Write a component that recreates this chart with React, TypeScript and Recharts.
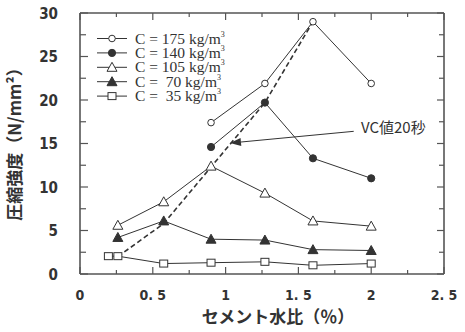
import React from 'react';
import {
  ComposedChart, Line, XAxis, YAxis, ReferenceLine, ReferenceDot,
} from 'recharts';

// ---- data ----
const x175 = [0.9, 1.27, 1.6, 2.0];
const y175 = [17.4, 21.9, 29.0, 21.9];
const x140 = [0.9, 1.27, 1.6, 2.0];
const y140 = [14.6, 19.7, 13.3, 11.0];
const x105 = [0.26, 0.575, 0.9, 1.27, 1.6, 2.0];
const y105 = [5.6, 8.3, 12.4, 9.3, 6.1, 5.5];
const x70 = [0.26, 0.575, 0.9, 1.27, 1.6, 2.0];
const y70 = [4.2, 6.1, 4.0, 3.9, 2.8, 2.7];
const x35 = [0.195, 0.26, 0.575, 0.9, 1.27, 1.6, 2.0];
const y35 = [2.05, 2.05, 1.2, 1.3, 1.4, 1.0, 1.2];
const xVC = [0.26, 0.575, 0.9, 1.27, 1.6];
const yVC = [2.0, 5.8, 12.3, 19.7, 29.0];

const seriesNames = ['C = 175 kg/m', 'C = 140 kg/m', 'C = 105 kg/m', 'C =  70 kg/m', 'C =  35 kg/m'];
const xTicks = [0, 0.25, 0.5, 0.75, 1, 1.25, 1.5, 1.75, 2, 2.25, 2.5];
const xTickLabels: Record<string, string> = { '0': '0', '0.5': '0. 5', '1': '1', '1.5': '1. 5', '2': '2', '2.5': '2. 5' };
const yTicks = [0, 2.5, 5, 7.5, 10, 12.5, 15, 17.5, 20, 22.5, 25, 27.5, 30];
const yTickLabels: Record<string, string> = { '0': '0', '5': '5', '10': '10', '15': '15', '20': '20', '25': '25', '30': '30' };
const annotationText = 'VC値20秒';
const xTitle = 'セメント水比（％）';
const yTitle = '圧縮強度（N/mm²）';

const zip = (xs: number[], ys: number[]) => xs.map((x, i) => ({ x, y: ys[i] }));
const d175 = zip(x175, y175);
const d140 = zip(x140, y140);
const d105 = zip(x105, y105);
const d70 = zip(x70, y70);
const d35 = zip(x35, y35);
const dVC = zip(xVC, yVC);

const INK = '#333';
const FRAME = '#555';
const tickFont = '"Liberation Sans Narrow", "DejaVu Sans Condensed", "Roboto Condensed", sans-serif';
const cjkFont = '"Noto Sans CJK JP", "Noto Sans CJK SC", sans-serif';

type MK = 'oc' | 'fc' | 'ot' | 'ft' | 'os';
const markerKinds: MK[] = ['oc', 'fc', 'ot', 'ft', 'os'];

const Marker = ({ kind, cx, cy }: { kind: MK; cx: number; cy: number }) => {
  switch (kind) {
    case 'oc':
      return <circle cx={cx} cy={cy} r={3.3} fill="#fff" stroke={INK} strokeWidth={1} />;
    case 'fc':
      return <circle cx={cx} cy={cy} r={3.6} fill={INK} stroke={INK} strokeWidth={1} />;
    case 'ot':
      return <polygon points={`${cx},${cy - 5} ${cx - 5},${cy + 4} ${cx + 5},${cy + 4}`} fill="#fff" stroke={INK} strokeWidth={1} />;
    case 'ft':
      return <polygon points={`${cx},${cy - 5} ${cx - 5},${cy + 4} ${cx + 5},${cy + 4}`} fill={INK} stroke={INK} strokeWidth={1} />;
    default:
      return <rect x={cx - 4} y={cy - 3.5} width={8} height={7} fill="#fff" stroke={INK} strokeWidth={1} />;
  }
};

const dotFor = (kind: MK) => (p: any) => (
  <g key={p.key ?? `${kind}-${p.index}`}>
    {p.cx != null && p.cy != null ? <Marker kind={kind} cx={p.cx} cy={p.cy} /> : null}
  </g>
);

const isMajor = (v: number, step: number) => Math.abs(v / step - Math.round(v / step)) < 1e-6;

const BottomTick = (p: any) => {
  const v = p.payload.value;
  const major = isMajor(v, 0.5);
  const lbl = xTickLabels[String(v)];
  return (
    <g>
      <line x1={p.x} y1={p.y} x2={p.x} y2={p.y - (major ? 7 : 4)} stroke={FRAME} strokeWidth={1.2} />
      {major && lbl !== undefined ? (
        <text x={p.x} y={p.y + 26} textAnchor="middle" fontFamily={tickFont} fontWeight="bold" fontSize={14} fill={INK} style={{ whiteSpace: 'pre' }}>{lbl}</text>
      ) : null}
    </g>
  );
};
const TopTick = (p: any) => {
  const v = p.payload.value;
  const major = isMajor(v, 0.5);
  return <line x1={p.x} y1={p.y} x2={p.x} y2={p.y + (major ? 7 : 4)} stroke={FRAME} strokeWidth={1.2} />;
};
const LeftTick = (p: any) => {
  const v = p.payload.value;
  const major = isMajor(v, 5);
  const lbl = yTickLabels[String(v)];
  return (
    <g>
      <line x1={p.x} y1={p.y} x2={p.x + (major ? 8 : 6)} y2={p.y} stroke={FRAME} strokeWidth={1.2} />
      {major && lbl !== undefined ? (
        <text x={p.x - 22} y={p.y + 5.5} textAnchor="end" fontFamily={tickFont} fontWeight="bold" fontSize={15} fill={INK}>{lbl}</text>
      ) : null}
    </g>
  );
};
const RightTick = (p: any) => {
  const v = p.payload.value;
  const major = isMajor(v, 5);
  return <line x1={p.x} y1={p.y} x2={p.x - (major ? 7 : 5)} y2={p.y} stroke={FRAME} strokeWidth={1.2} />;
};

const LegendBox = () => (
  <g transform="translate(95,31)">
    {seriesNames.map((name, i) => {
      const cy = 7.5 + i * 14.4;
      return (
        <g key={name}>
          <line x1={2} y1={cy} x2={32} y2={cy} stroke={INK} strokeWidth={1} />
          <Marker kind={markerKinds[i]} cx={17} cy={cy} />
          <text x={40} y={cy + 5} fontFamily='"Liberation Serif", "DejaVu Serif", serif' fontSize={15.5} fill={INK} style={{ whiteSpace: 'pre' }}>
            {name}
            <tspan fontSize={8} dy={-7}>3</tspan>
          </text>
        </g>
      );
    })}
  </g>
);

const ArrowShape = (p: any) => {
  const { x1, y1, x2, y2 } = p;
  if ([x1, y1, x2, y2].some((v) => v == null || isNaN(v))) return <g />;
  const ang = Math.atan2(y2 - y1, x2 - x1);
  const L = 11, W = 4;
  const bx = x2 - L * Math.cos(ang), by = y2 - L * Math.sin(ang);
  const px = -Math.sin(ang) * W, py = Math.cos(ang) * W;
  return (
    <g>
      <line x1={x1} y1={y1} x2={bx} y2={by} stroke={INK} strokeWidth={1} />
      <polygon points={`${x2},${y2} ${bx + px},${by + py} ${bx - px},${by - py}`} fill={INK} />
    </g>
  );
};

const AnnotationText = (p: any) => (
  <text x={p.cx} y={p.cy} fontFamily={cjkFont} fontSize={15} fill={INK}>{annotationText}</text>
);

export default function App() {
  return (
    <div style={{ position: 'absolute', left: 0, top: 0, width: 465, height: 332, background: '#fff' }}>
      <ComposedChart width={465} height={332} margin={{ top: 13, right: 21, bottom: 28, left: 20 }}>
        <XAxis xAxisId="b" type="number" dataKey="x" domain={[0, 2.5]} ticks={xTicks} interval={0}
          tickSize={0} tickMargin={0} tickLine={false} tick={<BottomTick />} height={30}
          axisLine={{ stroke: FRAME, strokeWidth: 1.6 }} allowDataOverflow />
        <XAxis xAxisId="t" orientation="top" mirror type="number" dataKey="x" domain={[0, 2.5]} ticks={xTicks} interval={0}
          tickSize={0} tickMargin={0} tickLine={false} tick={<TopTick />}
          axisLine={{ stroke: FRAME, strokeWidth: 1.6 }} allowDataOverflow />
        <YAxis yAxisId="l" type="number" domain={[0, 30]} ticks={yTicks} interval={0} width={60}
          tickSize={0} tickMargin={0} tickLine={false} tick={<LeftTick />}
          axisLine={{ stroke: FRAME, strokeWidth: 1.6 }} allowDataOverflow />
        <YAxis yAxisId="r" orientation="right" mirror type="number" domain={[0, 30]} ticks={yTicks} interval={0}
          tickSize={0} tickMargin={0} tickLine={false} tick={<RightTick />}
          axisLine={{ stroke: FRAME, strokeWidth: 1.6 }} allowDataOverflow />

        <Line xAxisId="b" yAxisId="l" data={dVC} dataKey="y" name="VC" stroke={INK} strokeWidth={1.6}
          strokeDasharray="5 3" dot={false} isAnimationActive={false} legendType="none" />
        <Line xAxisId="b" yAxisId="l" data={d175} dataKey="y" name={seriesNames[0]} stroke={INK} strokeWidth={1} dot={dotFor('oc')} isAnimationActive={false} />
        <Line xAxisId="b" yAxisId="l" data={d140} dataKey="y" name={seriesNames[1]} stroke={INK} strokeWidth={1} dot={dotFor('fc')} isAnimationActive={false} />
        <Line xAxisId="b" yAxisId="l" data={d105} dataKey="y" name={seriesNames[2]} stroke={INK} strokeWidth={1} dot={dotFor('ot')} isAnimationActive={false} />
        <Line xAxisId="b" yAxisId="l" data={d70} dataKey="y" name={seriesNames[3]} stroke={INK} strokeWidth={1} dot={dotFor('ft')} isAnimationActive={false} />
        <Line xAxisId="b" yAxisId="l" data={d35} dataKey="y" name={seriesNames[4]} stroke={INK} strokeWidth={1} dot={dotFor('os')} isAnimationActive={false} />

        <ReferenceLine xAxisId="b" yAxisId="l" segment={[{ x: 1.88, y: 16.4 }, { x: 1.03, y: 15.05 }]} shape={<ArrowShape />} ifOverflow="visible" />
        <ReferenceDot xAxisId="b" yAxisId="l" x={1.93} y={16.2} r={0} shape={<AnnotationText />} ifOverflow="visible" />

        <LegendBox />

        <text x={278} y={323} textAnchor="middle" fontFamily={cjkFont} fontWeight="bold" fontSize={17} fill={INK}>{xTitle}</text>
        <text x={0} y={0} transform="translate(21,140) rotate(-90)" textAnchor="middle" fontFamily={cjkFont} fontWeight="bold" fontSize={17} fill={INK}>{yTitle}</text>
      </ComposedChart>
    </div>
  );
}
